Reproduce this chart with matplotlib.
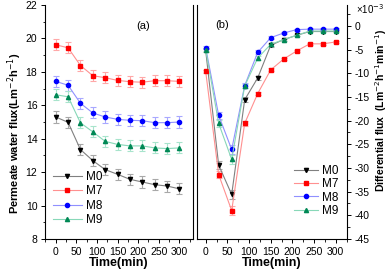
import matplotlib
matplotlib.use("Agg")
import matplotlib.pyplot as plt
from matplotlib.ticker import MultipleLocator

plt.rcParams['font.family'] = ['Liberation Sans', 'DejaVu Sans']
plt.rcParams['axes.unicode_minus'] = False

time = [0, 30, 60, 90, 120, 150, 180, 210, 240, 270, 300]
labels = ["M0", "M7", "M8", "M9"]

flux_M0 = [15.3, 14.98, 13.35, 12.69, 12.15, 11.87, 11.57, 11.41, 11.25, 11.17, 11.0]
flux_M7 = [19.62, 19.44, 18.38, 17.77, 17.65, 17.49, 17.41, 17.38, 17.47, 17.47, 17.43]
flux_M8 = [17.43, 17.2, 16.12, 15.54, 15.3, 15.16, 15.1, 15.08, 14.96, 14.96, 15.0]
flux_M9 = [16.63, 16.51, 14.95, 14.41, 13.84, 13.66, 13.57, 13.57, 13.45, 13.41, 13.45]
flux_err = [0.33, 0.33, 0.33, 0.33, 0.33, 0.33, 0.33, 0.33, 0.33, 0.33, 0.33]

diff_M0 = [-5.2, -29.4, -35.6, -15.6, -11.0, -4.1, -2.9, -2.0, -1.2, -1.2, -1.2]
diff_M7 = [-9.6, -31.4, -39.0, -20.6, -14.3, -9.3, -7.0, -5.3, -3.8, -3.8, -3.4]
diff_M8 = [-4.6, -18.9, -26.1, -12.6, -5.6, -2.5, -1.5, -0.8, -0.7, -0.7, -0.7]
diff_M9 = [-5.0, -20.6, -28.2, -12.7, -6.8, -3.9, -2.9, -2.0, -1.1, -1.1, -1.1]
diff_err = [0.3, 0.8, 1.0, 0.5, 0.4, 0.3, 0.2, 0.2, 0.2, 0.2, 0.2]

flux = [flux_M0, flux_M7, flux_M8, flux_M9]
diff = [diff_M0, diff_M7, diff_M8, diff_M9]

markers = ['v', 's', 'o', '^']
mcolors = ['#000000', '#ff0000', '#0000ff', '#008855']
lcolors = ['#808080', '#ff9090', '#9090ff', '#88d8b8']
ecolors = ['#a8a8a8', '#ffa8a8', '#a8a8ff', '#a8e4cc']

W, H = 392, 271
fig = plt.figure(figsize=(W / 100, H / 100), dpi=100)
axL = fig.add_axes([45 / W, 1 - 239 / H, (193 - 45) / W, (239 - 5) / H])
axR = fig.add_axes([197 / W, 1 - 239 / H, (347 - 197) / W, (239 - 5) / H])

fs = 7.5
for ax in (axL, axR):
    ax.spines['top'].set_visible(False)
    for s in ax.spines.values():
        s.set_linewidth(0.8)
    ax.tick_params(which='major', length=3, width=0.7, labelsize=fs, direction='out', pad=2.5)
    ax.tick_params(which='minor', length=1.8, width=0.6, direction='out')
    ax.xaxis.set_major_locator(MultipleLocator(50))
    ax.xaxis.set_minor_locator(MultipleLocator(25))
    ax.set_xlabel("Time(min)", fontsize=9, fontweight='bold', labelpad=0)

for i in range(4):
    axL.errorbar(time, flux[i], yerr=flux_err, color=lcolors[i], ecolor=ecolors[i],
                 elinewidth=0.8, capsize=2.2, capthick=0.8, lw=0.8,
                 marker=markers[i], ms=3, mfc=mcolors[i], mec=mcolors[i], label=labels[i])
    axR.errorbar(time, diff[i], yerr=diff_err, color=lcolors[i], ecolor=ecolors[i],
                 elinewidth=0.8, capsize=2.2, capthick=0.8, lw=0.8,
                 marker=markers[i], ms=3, mfc=mcolors[i], mec=mcolors[i], label=labels[i])

axL.set_xlim(-26, 333)
axL.set_ylim(8, 22)
axL.yaxis.set_major_locator(MultipleLocator(2))
axL.yaxis.set_minor_locator(MultipleLocator(1))
axL.set_ylabel("Permeate water flux(Lm$^{-2}$h$^{-1}$)", fontsize=8, fontweight='bold')
axL.yaxis.set_label_coords(-0.14, 0.45)
axL.text(0.66, 0.91, "(a)", transform=axL.transAxes, fontsize=8, ha='center', va='center')
hl, ll = axL.get_legend_handles_labels()
axL.legend([h[0] for h in hl], ll, loc='lower left', bbox_to_anchor=(0.0, 0.02), frameon=False,
           fontsize=8.5, handlelength=2.4, handletextpad=0.4, labelspacing=0.2, borderaxespad=0.3)

axR.set_xlim(-20, 326)
axR.set_ylim(-45, 4.4)
axR.yaxis.set_major_locator(MultipleLocator(5))
axR.yaxis.set_minor_locator(MultipleLocator(2.5))
axR.yaxis.tick_right()
axR.yaxis.set_label_position('right')
axR.spines['right'].set_visible(True)
axR.set_ylabel("Differential flux  (Lm$^{-2}$h$^{-1}$min$^{-1}$)", fontsize=7.5, fontweight='bold',
               rotation=90)
axR.yaxis.set_label_coords(1.175, 0.55)
axR.text(0.167, 0.915, "(b)", transform=axR.transAxes, fontsize=8, ha='center', va='center')
fig.text(356 / W, 1 - 9 / H, "\u00d710$^{-3}$", fontsize=7, ha='left', va='center')
hr, lr = axR.get_legend_handles_labels()
axR.legend([h[0] for h in hr], lr, loc='lower right', bbox_to_anchor=(1.0, 0.06), frameon=False,
           fontsize=8.5, handlelength=2.0, handletextpad=0.4, labelspacing=0.1, borderaxespad=0.3)

fig.savefig("out.png", dpi=100)
